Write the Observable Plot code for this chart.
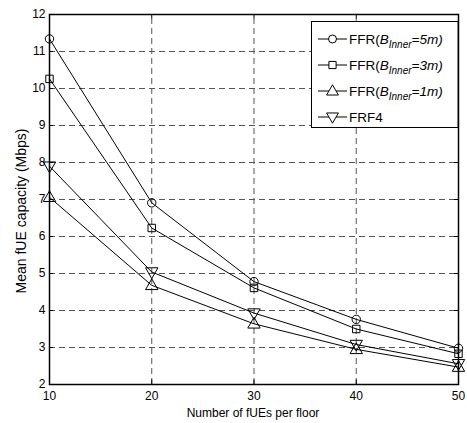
<!DOCTYPE html>
<html><head><meta charset="utf-8">
<script src="https://cdn.jsdelivr.net/npm/d3@7"></script>
<script src="https://cdn.jsdelivr.net/npm/@observablehq/plot@0.6"></script>
<style>body{margin:0;background:#fff;} svg{font-family:Arial,"Liberation Sans",sans-serif;}</style>
</head><body><div id="chart"></div>
<script>
const xValues = [10, 20, 30, 40, 50];
const ffr5 = [11.34, 6.91, 4.78, 3.76, 2.98];
const ffr3 = [10.26, 6.23, 4.61, 3.5, 2.83];
const ffr1 = [7.06, 4.68, 3.64, 2.95, 2.47];
const frf4 = [7.9, 5.04, 3.93, 3.08, 2.56];
const seriesNames = ["5m", "3m", "1m", "FRF4"];
const xTicks = [10, 20, 30, 40, 50];
const yTicks = [2, 3, 4, 5, 6, 7, 8, 9, 10, 11, 12];

const invTriangle = {draw(ctx, size) {
  const r = Math.sqrt(size / 1.3);
  ctx.moveTo(0, r); ctx.lineTo(r * 0.95, -r * 0.65); ctx.lineTo(-r * 0.95, -r * 0.65); ctx.closePath();
}};
const triangle = {draw(ctx, size) {
  const r = Math.sqrt(size / 1.3);
  ctx.moveTo(0, -r); ctx.lineTo(r * 0.95, r * 0.65); ctx.lineTo(-r * 0.95, r * 0.65); ctx.closePath();
}};
const symbols = {"5m": "circle", "3m": "square", "1m": triangle, "FRF4": invTriangle};
const allSeries = [ffr5, ffr3, ffr1, frf4];
const data = [];
allSeries.forEach((s, i) => s.forEach((v, j) => data.push({series: seriesNames[i], x: xValues[j], y: v})));
const xGrid = xTicks.slice(1, -1).map(v => ({v}));
const yGrid = yTicks.slice(1, -1).map(v => ({v}));

const W = 467, H = 423;
const plot = Plot.plot({
  width: W, height: H,
  marginLeft: 49, marginRight: 9, marginTop: 14, marginBottom: 39,
  x: {domain: [10, 50], label: null},
  y: {domain: [2, 12], label: null},
  style: {fontSize: "12px", color: "#000", fontFamily: "Arial, 'Liberation Sans', sans-serif"},
  marks: [
    Plot.ruleX(xGrid, {x: "v", y1: 2, y2: 12, stroke: "#555", strokeDasharray: "6,4", strokeWidth: 1}),
    Plot.ruleY(yGrid, {y: "v", x1: 10, x2: 50, stroke: "#555", strokeDasharray: "6,4", strokeWidth: 1}),
    Plot.axisX(xTicks, {tickSize: 0, tickPadding: 7, fontSize: 12, label: null}),
    Plot.axisY(yTicks, {tickSize: 0, tickPadding: 4, fontSize: 12, label: null}),
    Plot.ruleX(xTicks, {x: d => d, y1: 2, y2: 2.12, stroke: "#000"}),
    Plot.ruleX(xTicks, {x: d => d, y1: 11.88, y2: 12, stroke: "#000"}),
    Plot.ruleY(yTicks, {y: d => d, x1: 10, x2: 10.4, stroke: "#000"}),
    Plot.ruleY(yTicks, {y: d => d, x1: 49.6, x2: 50, stroke: "#000"}),
    Plot.line(data, {x: "x", y: "y", z: "series", stroke: "#000", strokeWidth: 1}),
    Plot.dot(data, {x: "x", y: "y", symbol: d => symbols[d.series], stroke: "#000", fill: "none", r: 4.2, strokeWidth: 1}),
    Plot.frame({stroke: "#000", strokeWidth: 1.5})
  ]
});
document.getElementById("chart").appendChild(plot);

// axis titles and legend
const svg = d3.select(plot);
svg.append("text").attr("x", 253).attr("y", 417).attr("text-anchor", "middle").attr("font-size", 12).attr("fill", "#000").text("Number of fUEs per floor");
svg.append("text").attr("transform", "translate(26,211) rotate(-90)").attr("text-anchor", "middle").attr("font-size", 14).attr("fill", "#000").text("Mean fUE capacity (Mbps)");

const lg = svg.append("g").attr("text-anchor", "start");
lg.append("rect").attr("x", 311.5).attr("y", 21.5).attr("width", 146.5).attr("height", 106).attr("fill", "#fff").attr("stroke", "#000").attr("stroke-width", 1);
const labels = [["5m"], ["3m"], ["1m"], null];
const symGen = [d3.symbol(d3.symbolCircle, 50), d3.symbol(d3.symbolSquare, 52), d3.symbol(triangle, 50), d3.symbol(invTriangle, 50)];
seriesNames.forEach((s, i) => {
  const yy = 39 + i * 26;
  lg.append("line").attr("x1", 318).attr("x2", 347).attr("y1", yy).attr("y2", yy).attr("stroke", "#000");
  lg.append("path").attr("transform", `translate(332.5,${yy})`).attr("d", symGen[i]()).attr("fill", "#fff").attr("stroke", "#000");
  const t = lg.append("text").attr("x", 349).attr("y", yy + 4.5).attr("font-size", 13.5).attr("fill", "#000").attr("text-anchor", "start");
  if (labels[i]) {
    t.append("tspan").text("FFR(");
    t.append("tspan").attr("font-style", "italic").text("B");
    t.append("tspan").attr("font-style", "italic").attr("font-size", 10).attr("dy", 4).text("Inner");
    t.append("tspan").attr("font-style", "italic").attr("dy", -4).text("=" + labels[i][0] + ")");
  } else {
    t.text("FRF4");
  }
});
</script>
</body></html>
